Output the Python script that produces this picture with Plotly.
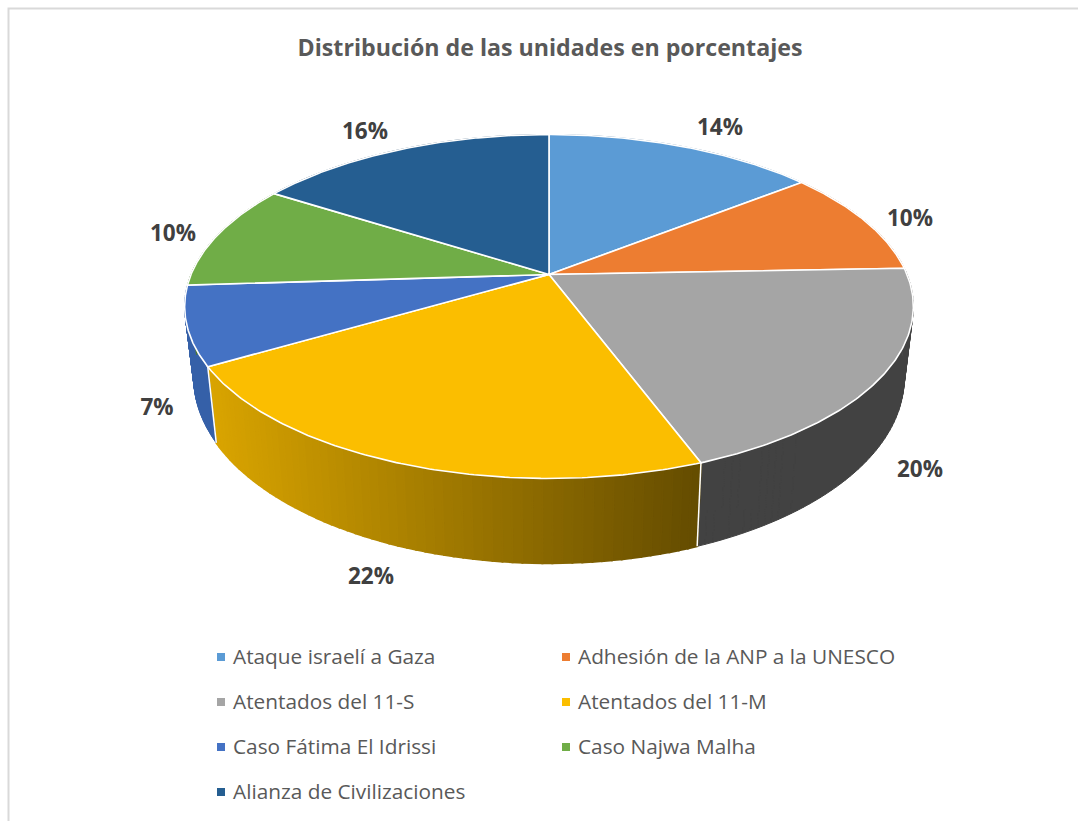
import numpy as np
import plotly.graph_objects as go

# ---- data ----
categories = ["Ataque israelí a Gaza", "Adhesión de la ANP a la UNESCO", "Atentados del 11-S",
              "Atentados del 11-M", "Caso Fátima El Idrissi", "Caso Najwa Malha", "Alianza de Civilizaciones"]
values = [14.4, 10.0, 19.9, 22.3, 7.4, 10.0, 16.0]
labels = ["14%", "10%", "20%", "22%", "7%", "10%", "16%"]
title = "Distribución de las unidades en porcentajes"

# ---- style ----
top_colors = ["#5B9BD5", "#ED7D31", "#A5A5A5", "#FBBE00", "#4472C4", "#70AD47", "#255E91"]
side_colors = ["#3E6C96", "#A5571F", "#424242", None, "#3560A8", "#4E7931", "#1A4266"]
FONT = "Open Sans"

# perspective pie geometry (pixels)
CX, CY, B, A, K, H, S = 549.0, 274.5, 358.0, 166.0, 0.186, 69.0, 0.975
label_pos = [(720, 129), (910, 220), (920, 471), (371, 578), (157, 409), (173, 235), (365, 133)]
legend_pos = [(221, 657), (566, 657), (221, 702), (566, 702), (221, 747), (566, 747), (221, 792)]


def top_pt(theta):
    u, v = np.sin(theta), np.cos(theta)
    d = 1 + K * v
    return CX + B * u / d, CY - A * v / d


def bot_pt(theta):
    u, v = np.sin(theta), np.cos(theta)
    d = 1 + K * v
    return CX + S * B * u / d, CY + (H - A * v) / d


fracs = np.array(values) / sum(values)
edges = np.concatenate([[0], np.cumsum(fracs)]) * 2 * np.pi
fig = go.Figure()

# sides (drawn first, the top faces cover what is hidden)
for i, cat in enumerate(categories):
    if side_colors[i] is not None:
        ts = np.linspace(edges[i], edges[i + 1], 61)
        xs, ys = [], []
        for j in range(len(ts) - 1):
            a, b = ts[j], ts[j + 1]
            (ax, ay), (bx, by) = top_pt(a), top_pt(b)
            (cx, cy), (dx, dy) = bot_pt(b), bot_pt(a)
            xs += [ax, bx, cx, dx, ax, None]
            ys += [ay, by, cy, dy, ay, None]
        fig.add_trace(go.Scatter(x=xs, y=ys, mode="lines", fill="toself", fillcolor=side_colors[i],
                                 line=dict(color=side_colors[i], width=1),
                                 hoverinfo="skip", showlegend=False))
    else:
        n = 60
        ts = np.linspace(edges[i], edges[i + 1], n + 1)
        for j in range(n):
            seg = np.linspace(ts[j], ts[j + 1], 3)
            tx, ty = top_pt(seg)
            bx, by = bot_pt(seg)
            xm = (tx.mean() + bx.mean()) / 2
            f = np.clip((xm - 210) / (700 - 210), 0, 1)
            c0, c1 = np.array([218, 165, 0]), np.array([100, 76, 0])
            r, g, b = (c0 + (c1 - c0) * f).astype(int)
            col = f"rgb({r},{g},{b})"
            fig.add_trace(go.Scatter(x=np.r_[tx, bx[::-1], tx[0]], y=np.r_[ty, by[::-1], ty[0]],
                                     mode="lines", fill="toself", fillcolor=col,
                                     line=dict(color=col, width=2),
                                     hoverinfo="skip", showlegend=False))

# white vertical edges between visible side faces
for e in (edges[3], edges[4]):
    tx, ty = top_pt(e)
    bx, by = bot_pt(e)
    fig.add_trace(go.Scatter(x=[tx, bx], y=[ty, by], mode="lines",
                             line=dict(color="white", width=1.5), hoverinfo="skip", showlegend=False))

# top faces
for i, cat in enumerate(categories):
    t = np.linspace(edges[i], edges[i + 1], 120)
    tx, ty = top_pt(t)
    fig.add_trace(go.Scatter(x=np.r_[CX, tx, CX], y=np.r_[CY, ty, CY], mode="lines", fill="toself",
                             fillcolor=top_colors[i], line=dict(color="white", width=1.6),
                             name=cat, hovertemplate=f"{cat}: {labels[i]}<extra></extra>", showlegend=False))

# percentage labels
for lab, (x, y) in zip(labels, label_pos):
    fig.add_trace(go.Scatter(x=[x], y=[y], mode="text", text=[f"<b>{lab}</b>"], textposition="middle center",
                             textfont=dict(family=FONT, size=22.5, color="#404040"),
                             hoverinfo="skip", showlegend=False))

# legend
for i, (cat, (x, y)) in enumerate(zip(categories, legend_pos)):
    fig.add_trace(go.Scatter(x=[x], y=[y], mode="markers", marker=dict(symbol="square", size=8, color=top_colors[i]),
                             hoverinfo="skip", showlegend=False))
    fig.add_trace(go.Scatter(x=[x + 12], y=[y + 1.5], mode="text", text=[cat], textposition="middle right",
                             textfont=dict(family=FONT, size=20.8, color="#595959"),
                             hoverinfo="skip", showlegend=False))

fig.update_layout(
    width=1078, height=821, margin=dict(l=0, r=0, t=0, b=0),
    paper_bgcolor="white", plot_bgcolor="white",
    title=dict(text=f"<b>{title}</b>", x=550 / 1078, xanchor="center", y=1 - 48 / 821, yanchor="middle",
               font=dict(family=FONT, size=23.2, color="#595959")),
    xaxis=dict(range=[0, 1078], visible=False, fixedrange=True),
    yaxis=dict(range=[821, 0], visible=False, fixedrange=True),
    shapes=[dict(type="rect", x0=8.5, y0=8.5, x1=1090, y1=840, line=dict(color="#D9D9D9", width=2),
                 layer="below")],
)
fig.write_html("out.html", config={"displayModeBar": False},
               post_script="document.body.style.margin='0';document.body.style.overflow='hidden';")
